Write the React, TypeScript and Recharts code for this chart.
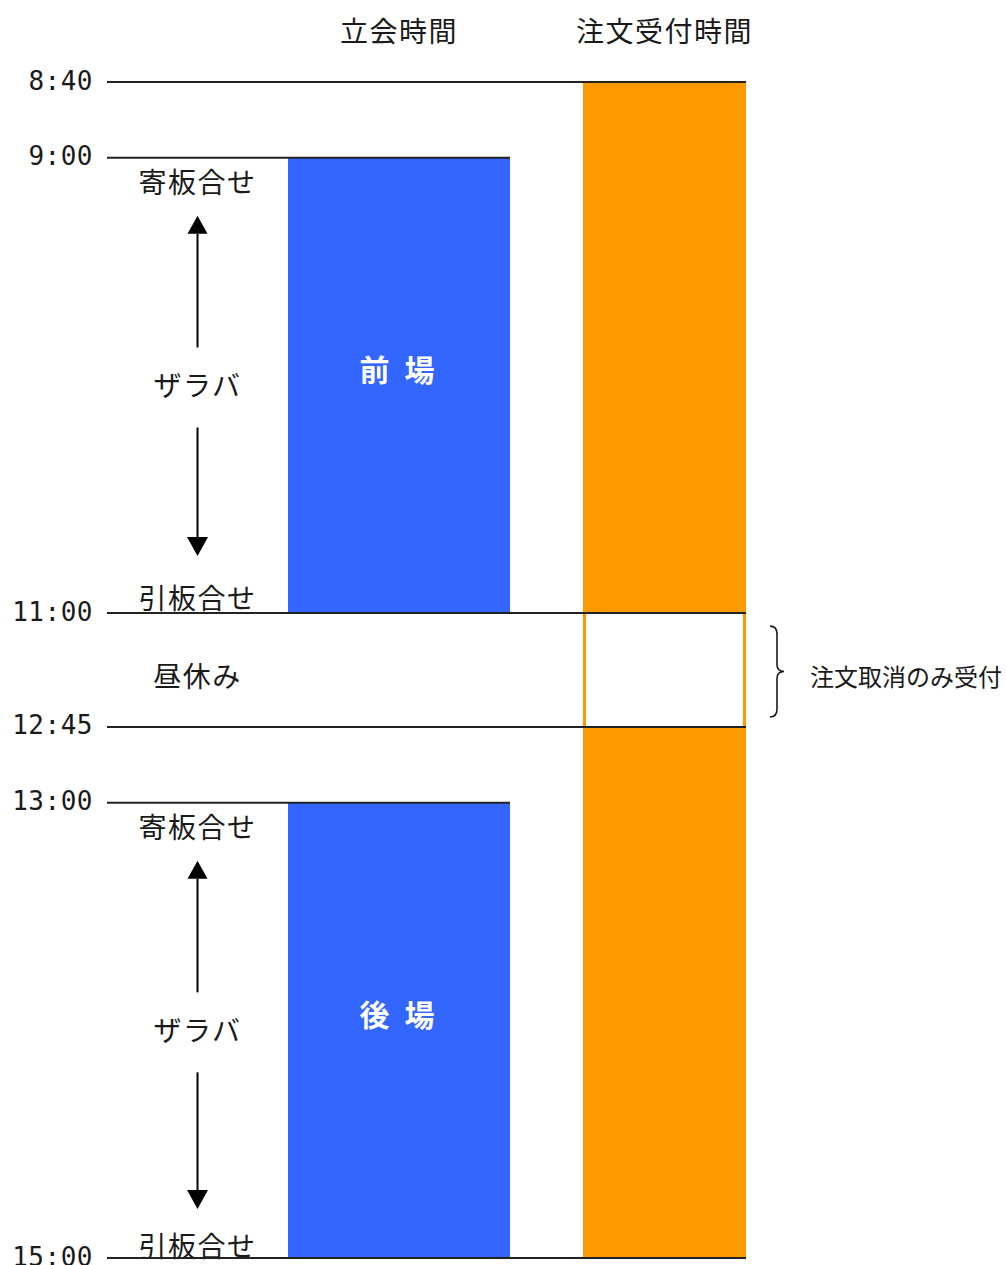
import React from 'react';
import { ComposedChart, XAxis, YAxis, ReferenceArea, ReferenceLine } from 'recharts';

// ---- data ----
const timeLabels = ['8:40', '9:00', '11:00', '12:45', '13:00', '15:00'];
// schematic rows between consecutive time marks (trading hours: one row per 10 min, breaks drawn compact)
const rowsBetweenMarks = [2, 12, 3, 2, 12];
const columnHeaders = ['立会時間', '注文受付時間'];
const sessionNames = ['前 場', '後 場'];
const sessionOpen = ['9:00', '13:00'];
const sessionClose = ['11:00', '15:00'];
const noteOpen = '寄板合せ';
const noteMiddle = 'ザラバ';
const noteClose = '引板合せ';
const orderOpen = '8:40';
const orderClose = '15:00';
const breakFrom = '11:00';
const breakTo = '12:45';
const breakName = '昼休み';
const cancelOnlyNote = '注文取消のみ受付';

// ---- derived schematic scale ----
const markRow: Record<string, number> = {};
let acc = 0;
timeLabels.forEach((t, i) => {
  if (i > 0) acc += rowsBetweenMarks[i - 1];
  markRow[t] = acc;
});
const totalRows = acc;

// ---- layout (lane positions, percent of plot width) ----
const LANE_NOTES = [0, 28.33];
const LANE_SESSION = [28.33, 63.07];
const LANE_ORDER = [74.49, 100];
const sessionCenter = (LANE_SESSION[0] + LANE_SESSION[1]) / 2;
const orderCenter = (LANE_ORDER[0] + LANE_ORDER[1]) / 2;
const tipFromBottom = [57, 49];
const closeFromBottom = [16, 13];

const BLUE = '#3366FF';
const ORANGE = '#FF9900';
const INK = '#1a1a1a';
const JP = '"Noto Sans CJK JP", "Noto Sans", sans-serif';
const MONO = '"DejaVu Sans Mono", monospace';

const YTick = (p: any) => (
  <text
    x={p.x}
    y={p.y - 1.5}
    textAnchor="end"
    dominantBaseline="central"
    fontFamily={MONO}
    fontSize={26}
    letterSpacing={0.5}
    fill={INK}
  >
    {timeLabels.find((t) => markRow[t] === p.payload.value)}
  </text>
);

const XTick = (p: any) => {
  const label = Math.abs(p.payload.value - sessionCenter) < 0.01 ? columnHeaders[0] : columnHeaders[1];
  return (
    <text
      x={p.x}
      y={30}
      textAnchor="middle"
      dominantBaseline="central"
      fontFamily={JP}
      fontSize={28}
      letterSpacing={1.5}
      fill={INK}
    >
      {label}
    </text>
  );
};

const jpText = (x: number, y: number, s: string, extra: any = {}) => (
  <text
    x={x}
    y={y}
    textAnchor="middle"
    dominantBaseline="central"
    fontFamily={JP}
    fontSize={28}
    letterSpacing={1.5}
    fill={INK}
    {...extra}
  >
    {s}
  </text>
);

const SessionNotes = (p: any) => {
  const { x, y, width, height, idx } = p;
  const cx = x + width / 2;
  const top = y;
  const bottom = y + height;
  const mid = y + height / 2;
  const upTip = top + 58;
  const upBase = upTip + 18;
  const downTip = bottom - tipFromBottom[idx];
  const downBase = downTip - 19;
  return (
    <g>
      {jpText(cx, top + 23, noteOpen)}
      <path d={`M${cx},${upTip} L${cx + 10},${upBase} L${cx - 10},${upBase} Z`} fill="#000" />
      <line x1={cx} y1={upBase} x2={cx} y2={mid - 38} stroke="#000" strokeWidth={2} />
      {jpText(cx, mid - 1, noteMiddle)}
      <line x1={cx} y1={mid + 42} x2={cx} y2={downBase} stroke="#000" strokeWidth={2} />
      <path d={`M${cx},${downTip} L${cx + 10.5},${downBase} L${cx - 10.5},${downBase} Z`} fill="#000" />
      {jpText(cx, bottom - closeFromBottom[idx], noteClose)}
    </g>
  );
};

const SessionBlock = (p: any) => {
  const { x, y, width, height, idx } = p;
  return (
    <g>
      <rect x={x} y={y} width={width} height={height} fill={BLUE} />
      {jpText(x + width / 2, y + height / 2 - 17, sessionNames[idx], {
        fill: '#fff',
        fontWeight: 700,
        fontSize: 30,
        letterSpacing: 4,
      })}
    </g>
  );
};

const BreakBox = (p: any) => {
  const { x, y, width, height } = p;
  const bx = x + width + 24;
  const t = y + 13;
  const b = y + height - 10;
  const m = (t + b) / 2;
  return (
    <g>
      <rect x={x + 3} y={y} width={width - 6} height={height} fill="#fff" />
      <path
        d={`M${bx},${t} Q${bx + 7},${t} ${bx + 7},${t + 8} L${bx + 7},${m - 7} Q${bx + 7},${m} ${bx + 14},${m} Q${bx + 7},${m} ${bx + 7},${m + 7} L${bx + 7},${b - 8} Q${bx + 7},${b} ${bx},${b}`}
        fill="none"
        stroke={INK}
        strokeWidth={1.6}
      />
      <text
        x={bx + 40}
        y={m + 4}
        textAnchor="start"
        dominantBaseline="central"
        fontFamily={JP}
        fontSize={24}
        fill={INK}
      >
        {cancelOnlyNote}
      </text>
    </g>
  );
};

const BreakLabel = (p: any) => {
  const { x, y, width, height } = p;
  return <g>{jpText(x + width / 2, y + height / 2 + 5, breakName)}</g>;
};

// each time mark sits at the start of the lane axis
const chartData = timeLabels.map((t) => ({ time: t, lane: 0, row: markRow[t] }));

export default function App() {
  return (
    <div style={{ position: 'absolute', left: 0, top: 0, width: 1006, height: 1265, background: '#fff' }}>
      <ComposedChart
        width={1006}
        height={1265}
        data={chartData}
        margin={{ top: 0, right: 260, bottom: 7, left: 7 }}
      >
        <XAxis
          dataKey="lane"
          type="number"
          orientation="top"
          domain={[0, 100]}
          allowDataOverflow
          ticks={[sessionCenter, orderCenter]}
          interval={0}
          tick={<XTick />}
          axisLine={false}
          tickLine={false}
          tickSize={0}
          tickMargin={0}
          height={82}
        />
        <YAxis
          dataKey="row"
          type="number"
          domain={[0, totalRows]}
          allowDataOverflow
          reversed
          ticks={timeLabels.map((t) => markRow[t])}
          interval={0}
          tick={<YTick />}
          axisLine={false}
          tickLine={false}
          tickSize={0}
          tickMargin={14}
          width={100}
        />
        <ReferenceArea
          x1={LANE_ORDER[0]}
          x2={LANE_ORDER[1]}
          y1={markRow[orderOpen]}
          y2={markRow[orderClose]}
          fill={ORANGE}
          fillOpacity={1}
          stroke="none"
          ifOverflow="visible"
        />
        <ReferenceArea
          x1={LANE_ORDER[0]}
          x2={LANE_ORDER[1]}
          y1={markRow[breakFrom]}
          y2={markRow[breakTo]}
          ifOverflow="visible"
          shape={(p: any) => <BreakBox {...p} />}
        />
        {sessionOpen.map((o, i) => (
          <ReferenceArea
            key={'s' + i}
            x1={LANE_SESSION[0]}
            x2={LANE_SESSION[1]}
            y1={markRow[o]}
            y2={markRow[sessionClose[i]]}
            ifOverflow="visible"
            shape={(p: any) => <SessionBlock {...p} idx={i} />}
          />
        ))}
        {timeLabels.map((t) => {
          const xEnd = sessionOpen.includes(t) ? LANE_SESSION[1] : LANE_ORDER[1];
          return (
            <ReferenceLine
              key={'l' + t}
              segment={[
                { x: 0, y: markRow[t] },
                { x: xEnd, y: markRow[t] },
              ]}
              stroke="#222"
              strokeWidth={2}
              ifOverflow="visible"
            />
          );
        })}
        {sessionOpen.map((o, i) => (
          <ReferenceArea
            key={'n' + i}
            x1={LANE_NOTES[0]}
            x2={LANE_NOTES[1]}
            y1={markRow[o]}
            y2={markRow[sessionClose[i]]}
            ifOverflow="visible"
            shape={(p: any) => <SessionNotes {...p} idx={i} />}
          />
        ))}
        <ReferenceArea
          x1={LANE_NOTES[0]}
          x2={LANE_NOTES[1]}
          y1={markRow[breakFrom]}
          y2={markRow[breakTo]}
          ifOverflow="visible"
          shape={(p: any) => <BreakLabel {...p} />}
        />
      </ComposedChart>
    </div>
  );
}
